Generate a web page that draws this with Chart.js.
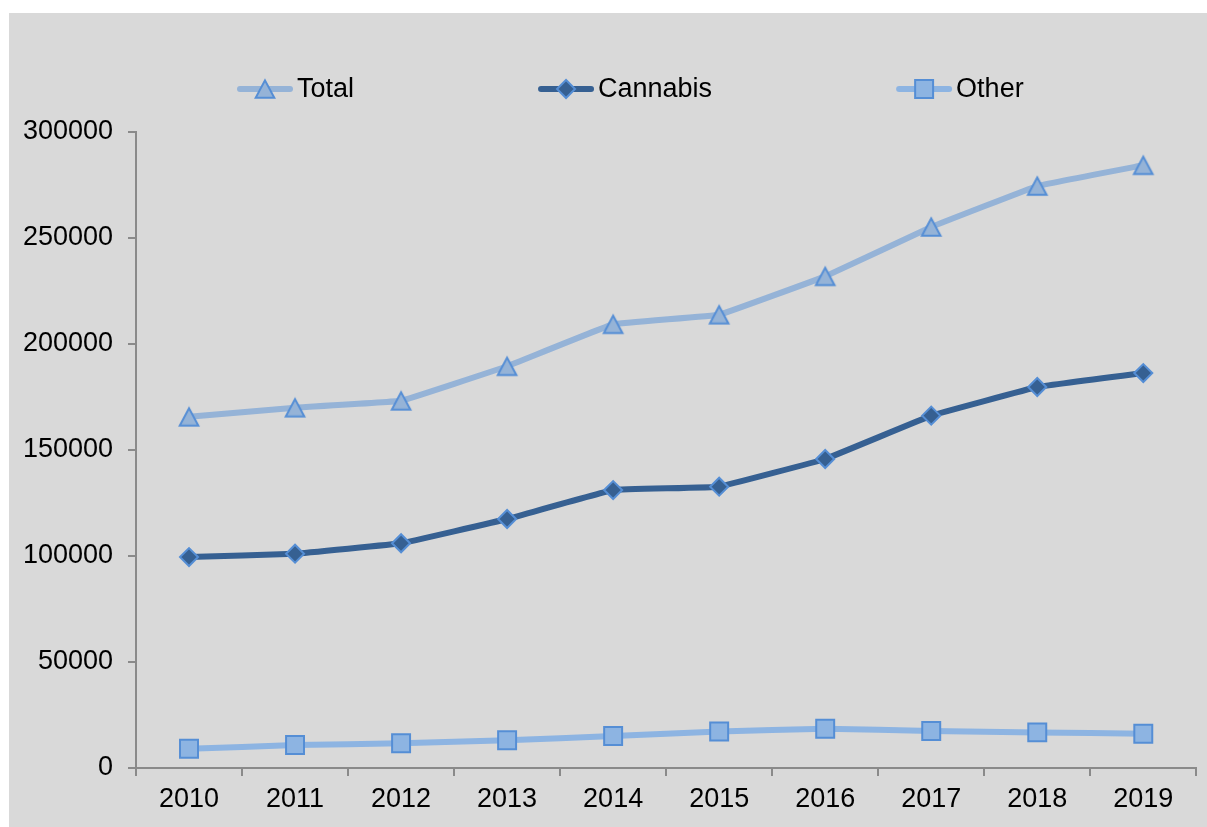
<!DOCTYPE html>
<html>
<head>
<meta charset="utf-8">
<script src="https://cdn.jsdelivr.net/npm/chart.js@4.4.1/dist/chart.umd.min.js"></script>
<style>
  html, body { margin: 0; padding: 0; background: #ffffff; overflow: hidden; }
  #frame { position: absolute; left: 9px; top: 13px; width: 1198px; height: 814px; background: #d9d9d9; overflow: hidden; }
  canvas { display: block; }
</style>
</head>
<body>
<div id="frame"><canvas id="chart" width="1202" height="814"></canvas></div>
<script>
// Yearly case counts
const years = ['2010', '2011', '2012', '2013', '2014', '2015', '2016', '2017', '2018', '2019'];
const totalCases    = [165650, 169950, 173200, 189500, 209300, 213800, 231900, 255200, 274500, 284300];
const cannabisCases = [99500, 101100, 106000, 117450, 131100, 132700, 145750, 166200, 179700, 186300];
const otherCases    = [9050, 10850, 11650, 13050, 15100, 17200, 18500, 17450, 16800, 16200];
const yTickValues   = [0, 50000, 100000, 150000, 200000, 250000, 300000];
const seriesNames   = ['Total', 'Cannabis', 'Other'];

const FONT = '"Liberation Sans", Arial, sans-serif';
const FONT_SIZE = 27;
const MARKER_EDGE = '#558ed5';

// Triangle marker drawn on a small canvas so it sits centred on its point
function triangleMarker(fill, stroke) {
  const c = document.createElement('canvas');
  c.width = 24; c.height = 24;
  const g = c.getContext('2d');
  g.beginPath();
  g.moveTo(12, 3.4);
  g.lineTo(21.3, 20.8);
  g.lineTo(2.7, 20.8);
  g.closePath();
  g.fillStyle = fill;
  g.fill();
  g.lineWidth = 2;
  g.lineJoin = 'miter';
  g.strokeStyle = stroke;
  g.stroke();
  return c;
}

const triangle = triangleMarker('#95b3d7', MARKER_EDGE);

// Legend with a line sample and marker for each series
const lineLegend = {
  id: 'lineLegend',
  afterDraw(chart, args, opts) {
    const ctx = chart.ctx;
    ctx.save();
    ctx.font = opts.font;
    ctx.textBaseline = 'middle';
    ctx.textAlign = 'left';
    let x = opts.x;
    const y = opts.y;
    chart.data.datasets.forEach(ds => {
      const w = opts.sampleWidth;
      ctx.strokeStyle = ds.borderColor;
      ctx.lineWidth = ds.borderWidth;
      ctx.lineCap = 'round';
      ctx.beginPath();
      ctx.moveTo(x + 3, y);
      ctx.lineTo(x + w - 3, y);
      ctx.stroke();
      const cx = x + w / 2;
      const st = ds.pointStyle;
      if (st instanceof HTMLCanvasElement) {
        ctx.drawImage(st, cx - st.width / 2, y - st.height / 2);
      } else {
        ctx.fillStyle = ds.pointBackgroundColor;
        ctx.strokeStyle = ds.pointBorderColor;
        ctx.lineWidth = ds.pointBorderWidth;
        ctx.lineCap = 'butt';
        ctx.beginPath();
        if (st === 'rectRot') {
          const r = ds.pointRadius;
          ctx.moveTo(cx - r, y); ctx.lineTo(cx, y - r); ctx.lineTo(cx + r, y); ctx.lineTo(cx, y + r);
          ctx.closePath();
        } else {
          const h = ds.pointRadius * Math.SQRT1_2;
          ctx.rect(cx - h, y - h, 2 * h, 2 * h);
        }
        ctx.fill();
        ctx.stroke();
      }
      ctx.fillStyle = '#000000';
      ctx.fillText(ds.label, x + w + opts.textGap, y + 1);
      x += w + opts.textGap + ctx.measureText(ds.label).width + opts.itemGap;
    });
    ctx.restore();
  }
};

const axisGray = '#8a8a8a';

new Chart(document.getElementById('chart'), {
  type: 'line',
  data: {
    labels: years,
    datasets: [
      {
        label: seriesNames[0],
        data: totalCases,
        borderColor: '#95b3d7',
        borderWidth: 6,
        tension: 0.05,
        borderCapStyle: 'round',
        borderJoinStyle: 'round',
        pointStyle: triangle,
        pointRadius: 10,
        pointBackgroundColor: '#95b3d7',
        pointBorderColor: MARKER_EDGE,
        pointBorderWidth: 2,
        order: 1
      },
      {
        label: seriesNames[1],
        data: cannabisCases,
        borderColor: '#366092',
        borderWidth: 6,
        tension: 0.05,
        borderCapStyle: 'round',
        borderJoinStyle: 'round',
        pointStyle: 'rectRot',
        pointRadius: 9,
        pointBackgroundColor: '#366092',
        pointBorderColor: MARKER_EDGE,
        pointBorderWidth: 2,
        order: 2
      },
      {
        label: seriesNames[2],
        data: otherCases,
        borderColor: '#8db4e2',
        borderWidth: 6,
        tension: 0.05,
        borderCapStyle: 'round',
        borderJoinStyle: 'round',
        pointStyle: 'rect',
        pointRadius: 12.7,
        pointBackgroundColor: '#8db4e2',
        pointBorderColor: MARKER_EDGE,
        pointBorderWidth: 2,
        order: 3
      }
    ]
  },
  options: {
    responsive: false,
    animation: false,
    devicePixelRatio: 1,
    layout: { padding: { top: 119, right: 12, bottom: 0, left: 0 } },
    plugins: {
      legend: { display: false },
      tooltip: { enabled: false },
      lineLegend: { x: 228, y: 76, sampleWidth: 56, textGap: 4, itemGap: 184, font: FONT_SIZE + 'px ' + FONT }
    },
    scales: {
      x: {
        offset: true,
        grid: { offset: true, drawOnChartArea: false, drawTicks: true, tickLength: 8, color: axisGray, lineWidth: 2 },
        border: { display: true, color: axisGray, width: 2 },
        ticks: { color: '#000000', font: { family: FONT, size: FONT_SIZE }, padding: 7, maxRotation: 0 },
        afterFit(scale) {
          scale.height = 59;
          scale.paddingLeft = 0;
          scale.paddingRight = 0;
        }
      },
      y: {
        min: 0,
        max: 300000,
        afterBuildTicks(scale) { scale.ticks = yTickValues.map(v => ({ value: v })); },
        grid: { drawOnChartArea: false, drawTicks: true, tickLength: 8, color: axisGray, lineWidth: 2 },
        border: { display: true, color: axisGray, width: 2 },
        ticks: {
          color: '#000000',
          font: { family: FONT, size: FONT_SIZE },
          padding: 15,
          callback: v => String(v)
        },
        afterFit(scale) { scale.width = 127; }
      }
    }
  },
  plugins: [lineLegend]
});
</script>
</body>
</html>
